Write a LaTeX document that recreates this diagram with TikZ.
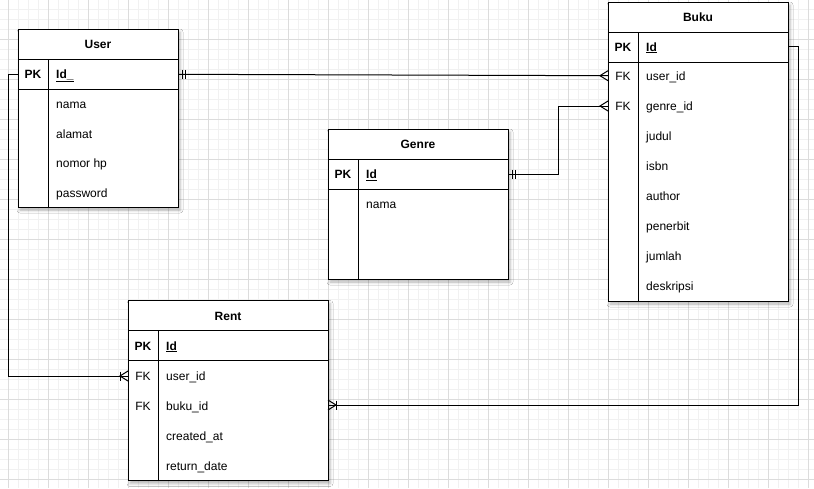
\documentclass[tikz,border=0pt]{standalone}
\usepackage{fontspec}
\setmainfont{Liberation Sans}
\usetikzlibrary{shadows.blur}
\definecolor{gmaj}{HTML}{DCDCDC}
\definecolor{gmin}{HTML}{F1F1F1}
\begin{document}
\begin{tikzpicture}[x=1pt,y=-1pt,
  tbl/.style={draw=black, fill=white, line width=1pt, inner sep=0pt, outer sep=0pt, anchor=north west,
    blur shadow={shadow xshift=2pt, shadow yshift=-3pt, shadow blur radius=3pt, shadow opacity=30}},
  sep/.style={line width=1pt},
  hdr/.style={font=\bfseries\fontsize{12}{14}\selectfont, inner sep=0pt, anchor=base},
  key/.style={font=\bfseries\fontsize{12}{14}\selectfont, inner sep=0pt, anchor=base},
  fk/.style={font=\fontsize{12}{14}\selectfont, inner sep=0pt, anchor=base},
  fld/.style={font=\fontsize{12}{14}\selectfont, inner sep=0pt, anchor=base west},
  pkf/.style={font=\bfseries\fontsize{12}{14}\selectfont, inner sep=0pt, anchor=base west},
  rel/.style={line width=1pt, draw=black},
  mandone/.pic={\draw[line width=1pt] (4.5,-4.5) -- (4.5,4.5); \draw[line width=1pt] (7.5,-4.5) -- (7.5,4.5);},
  crow/.pic={\draw[line width=1pt] (0,-5) -- (8,0) -- (0,5);},
  onemany/.pic={\draw[line width=1pt] (0,-5) -- (8,0) -- (0,5); \draw[line width=1pt] (8,-4.5) -- (8,4.5);}
]
\useasboundingbox (0,0) rectangle (814,488);
\fill[white] (0,0) rectangle (814,488);
% grid
\foreach \x in {8,18,...,808} \draw[gmin, line width=1pt] (\x,0) -- (\x,488);
\foreach \y in {9,19,...,479} \draw[gmin, line width=1pt] (0,\y) -- (814,\y);
\foreach \x in {8,48,...,808} \draw[gmaj, line width=1pt] (\x,0) -- (\x,488);
\foreach \y in {39,79,...,479} \draw[gmaj, line width=1pt] (0,\y) -- (814,\y);

% ===== User =====
\node[tbl, minimum width=160pt, minimum height=178pt] (user) at (18,29) {};
\draw[sep] (18,59) -- (178,59);
\draw[sep] (18,89) -- (178,89);
\draw[sep] (48,59) -- (48,207);
\node[hdr] (user-t) at (98,48.5) {User};
\node[key] (user-pk) at (33,78.5) {PK};
\node[pkf] (user-id) at (56,78.5) {\underline{Id\_}};
\node[fld] (user-nama) at (56,108.5) {nama};
\node[fld] (user-alamat) at (56,138.5) {alamat};
\node[fld] (user-hp) at (56,167.5) {nomor hp};
\node[fld] (user-pw) at (56,197.5) {password};

% ===== Buku =====
\node[tbl, minimum width=180pt, minimum height=299pt] (buku) at (608,2) {};
\draw[sep] (608,32) -- (788,32);
\draw[sep] (608,62) -- (788,62);
\draw[sep] (638,32) -- (638,301);
\node[hdr] (buku-t) at (698,21.3) {Buku};
\node[key] (buku-pk) at (623,51) {PK};
\node[pkf] (buku-id) at (646,51) {\underline{Id}};
\node[fk] (buku-fk1) at (623,80.5) {FK};
\node[fld] (buku-uid) at (646,80.5) {user\_id};
\node[fk] (buku-fk2) at (623,110.5) {FK};
\node[fld] (buku-gid) at (646,110.5) {genre\_id};
\node[fld] (buku-judul) at (646,140.5) {judul};
\node[fld] (buku-isbn) at (646,170.5) {isbn};
\node[fld] (buku-author) at (646,200.5) {author};
\node[fld] (buku-penerbit) at (646,230.5) {penerbit};
\node[fld] (buku-jumlah) at (646,260.5) {jumlah};
\node[fld] (buku-desk) at (646,290.5) {deskripsi};

% ===== Genre =====
\node[tbl, minimum width=180pt, minimum height=150pt] (genre) at (328,129) {};
\draw[sep] (328,159) -- (508,159);
\draw[sep] (328,189) -- (508,189);
\draw[sep] (358,159) -- (358,279);
\node[hdr] (genre-t) at (418,148.5) {Genre};
\node[key] (genre-pk) at (343,178.5) {PK};
\node[pkf] (genre-id) at (366,178.5) {\underline{Id}};
\node[fld] (genre-nama) at (366,208.5) {nama};

% ===== Rent =====
\node[tbl, minimum width=200pt, minimum height=180pt] (rent) at (128,300.5) {};
\draw[sep] (128,330.5) -- (328,330.5);
\draw[sep] (128,360.5) -- (328,360.5);
\draw[sep] (158,330.5) -- (158,480.5);
\node[hdr] (rent-t) at (228,320) {Rent};
\node[key] (rent-pk) at (143,350) {PK};
\node[pkf] (rent-id) at (166,350) {\underline{Id}};
\node[fk] (rent-fk1) at (143,380) {FK};
\node[fld] (rent-uid) at (166,380) {user\_id};
\node[fk] (rent-fk2) at (143,410) {FK};
\node[fld] (rent-bid) at (166,410) {buku\_id};
\node[fld] (rent-created) at (166,440) {created\_at};
\node[fld] (rent-return) at (166,470) {return\_date};

% ===== connector ends =====
\coordinate (u-pk-e) at (user.east |- 0,74.3);
\coordinate (u-pk-w) at (user.west |- 0,74.3);
\coordinate (b-uid-w) at (buku.west |- 0,75.7);
\coordinate (b-gid-w) at (buku.west |- 0,106);
\coordinate (b-pk-e) at (buku.east |- 0,46);
\coordinate (g-pk-e) at (genre.east |- 0,174.3);
\coordinate (r-uid-w) at (rent.west |- 0,376);
\coordinate (r-bid-e) at (rent.east |- 0,405);

% ===== connectors =====
\draw[rel] (u-pk-e) -- (b-uid-w);
\pic at (u-pk-e) {mandone};
\pic[xscale=-1] at (b-uid-w) {crow};

\draw[rel] (g-pk-e) -- ++(50,0) |- (b-gid-w);
\pic at (g-pk-e) {mandone};
\pic[xscale=-1] at (b-gid-w) {crow};

\draw[rel] (u-pk-w) -- ++(-10,0) |- (r-uid-w);
\pic[xscale=-1] at (r-uid-w) {onemany};

\draw[rel] (b-pk-e) -- ++(10,0) |- (r-bid-e);
\pic at (r-bid-e) {onemany};
\end{tikzpicture}
\end{document}
